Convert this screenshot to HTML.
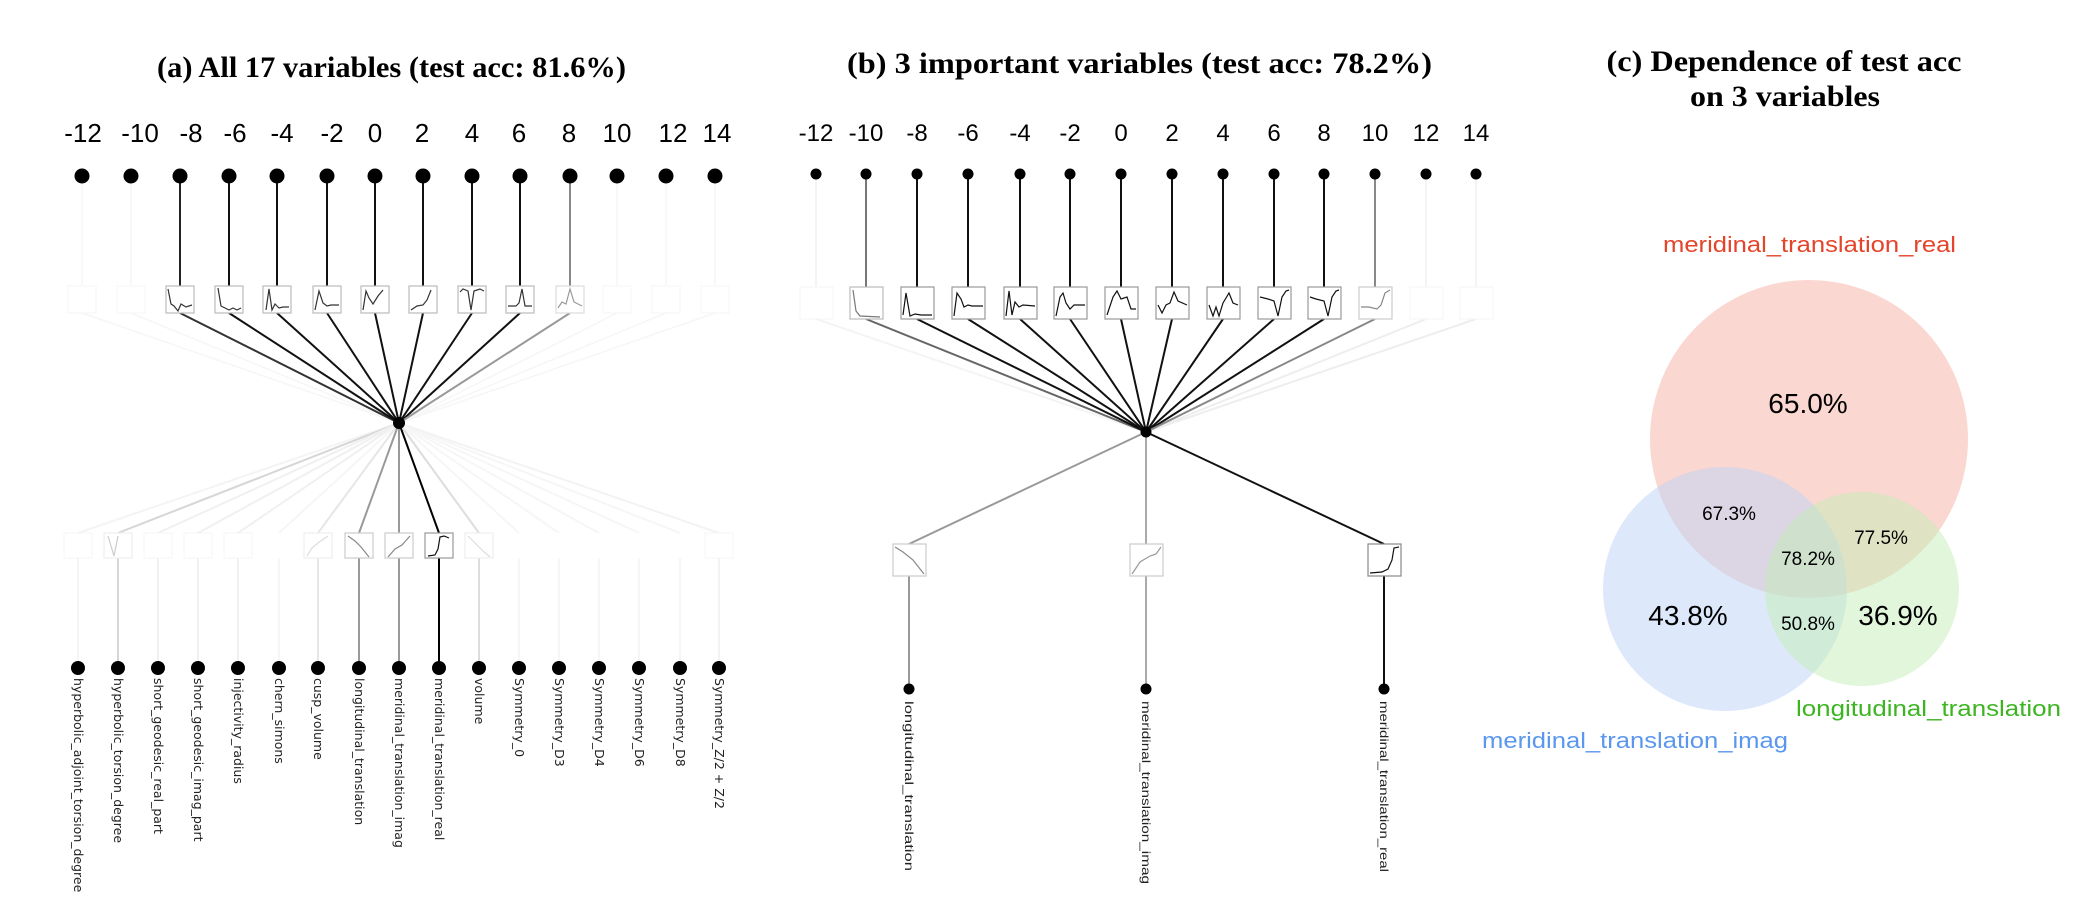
<!DOCTYPE html>
<html><head><meta charset="utf-8"><style>
html,body{margin:0;padding:0;background:#fff;}
svg{display:block;}
.t{font-family:"Liberation Serif",serif;font-weight:bold;font-size:30px;fill:#000;}
.k{font-family:"Liberation Sans",sans-serif;font-size:26px;fill:#000;text-anchor:middle;}
.v{font-family:"DejaVu Sans",sans-serif;font-size:12.5px;fill:#222;}
.v2{font-family:"Liberation Sans",sans-serif;font-size:12px;fill:#222;}
.bx{fill:#fff;stroke:#bbb;stroke-width:1.2;}
.fb{fill:#fff;stroke:#f5f5f5;stroke-width:1;}
.c{fill:none;stroke:#333;stroke-width:1.2;}
.vn{font-family:"Liberation Sans",sans-serif;fill:#000;text-anchor:middle;}
</style></head><body>
<svg width="2088" height="916" viewBox="0 0 2088 916" xmlns="http://www.w3.org/2000/svg">
<!-- ============ Panel (a) ============ -->
<text class="t" x="157" y="77" textLength="469" lengthAdjust="spacingAndGlyphs">(a) All 17 variables (test acc: 81.6%)</text>
<g>
<text class="k" x="83" y="142">-12</text><text class="k" x="140" y="142">-10</text><text class="k" x="191" y="142">-8</text><text class="k" x="235" y="142">-6</text><text class="k" x="282" y="142">-4</text><text class="k" x="332" y="142">-2</text><text class="k" x="375" y="142">0</text><text class="k" x="422" y="142">2</text><text class="k" x="472" y="142">4</text><text class="k" x="519" y="142">6</text><text class="k" x="569" y="142">8</text><text class="k" x="617" y="142">10</text><text class="k" x="673" y="142">12</text><text class="k" x="717" y="142">14</text>
</g>
<g stroke="#f6f6f6" stroke-width="1.5">
<line x1="82" y1="176" x2="82" y2="300"/><line x1="131" y1="176" x2="131" y2="300"/><line x1="617" y1="176" x2="617" y2="300"/><line x1="666" y1="176" x2="666" y2="300"/><line x1="715" y1="176" x2="715" y2="300"/>
<line x1="82" y1="313" x2="399" y2="423"/><line x1="131" y1="313" x2="399" y2="423"/><line x1="617" y1="313" x2="399" y2="423"/><line x1="666" y1="313" x2="399" y2="423"/><line x1="715" y1="313" x2="399" y2="423"/>
</g>
<g stroke-width="2">
<line x1="180" y1="176" x2="180" y2="286" stroke="#222"/><line x1="229" y1="176" x2="229" y2="286" stroke="#111"/><line x1="277" y1="176" x2="277" y2="286" stroke="#111"/><line x1="327" y1="176" x2="327" y2="286" stroke="#111"/><line x1="375" y1="176" x2="375" y2="286" stroke="#111"/><line x1="423" y1="176" x2="423" y2="286" stroke="#111"/><line x1="472" y1="176" x2="472" y2="286" stroke="#111"/><line x1="520" y1="176" x2="520" y2="286" stroke="#111"/><line x1="570" y1="176" x2="570" y2="286" stroke="#888"/>
<line x1="180" y1="313" x2="399" y2="423" stroke="#333"/><line x1="229" y1="313" x2="399" y2="423" stroke="#111"/><line x1="277" y1="313" x2="399" y2="423" stroke="#111"/><line x1="327" y1="313" x2="399" y2="423" stroke="#111"/><line x1="375" y1="313" x2="399" y2="423" stroke="#111"/><line x1="423" y1="313" x2="399" y2="423" stroke="#111"/><line x1="472" y1="313" x2="399" y2="423" stroke="#111"/><line x1="520" y1="313" x2="399" y2="423" stroke="#111"/><line x1="570" y1="313" x2="399" y2="423" stroke="#999"/>
</g>
<g fill="#000">
<circle cx="82" cy="176" r="7.5"/><circle cx="131" cy="176" r="7.5"/><circle cx="180" cy="176" r="7.5"/><circle cx="229" cy="176" r="7.5"/><circle cx="277" cy="176" r="7.5"/><circle cx="327" cy="176" r="7.5"/><circle cx="375" cy="176" r="7.5"/><circle cx="423" cy="176" r="7.5"/><circle cx="472" cy="176" r="7.5"/><circle cx="520" cy="176" r="7.5"/><circle cx="570" cy="176" r="7.5"/><circle cx="617" cy="176" r="7.5"/><circle cx="666" cy="176" r="7.5"/><circle cx="715" cy="176" r="7.5"/>
</g>
<g>
<g transform="translate(166,286)"><rect class="bx" width="28" height="27"/><path class="c" d="M2,3 L5,18 L8,20 L12,25 L15,18 L20,21 L26,19"/></g>
<g transform="translate(215,286)"><rect class="bx" width="28" height="27"/><path class="c" d="M3,2 L6,20 L10,22 L14,24 L18,22 L22,24 L26,22"/></g>
<g transform="translate(263,286)"><rect class="bx" width="28" height="27"/><path class="c" d="M3,24 L6,3 L9,24 L12,18 L16,22 L20,21 L26,21"/></g>
<g transform="translate(313,286)"><rect class="bx" width="28" height="27"/><path class="c" d="M2,24 L6,5 L10,17 L14,20 L18,19 L26,19"/></g>
<g transform="translate(361,286)"><rect class="bx" width="28" height="27"/><path class="c" d="M2,24 L5,5 L8,12 L12,18 L17,10 L22,4"/></g>
<g transform="translate(409,286)"><rect class="bx" width="28" height="27"/><path class="c" d="M2,24 L8,20 L14,19 L18,14 L22,4"/></g>
<g transform="translate(458,286)"><rect class="bx" width="28" height="27"/><path class="c" d="M2,6 L5,3 L10,5 L13,24 L16,5 L22,3 L26,5"/></g>
<g transform="translate(506,286)"><rect class="bx" width="28" height="27"/><path class="c" d="M2,20 L10,20 L13,17 L16,3 L19,20 L26,20"/></g>
<g transform="translate(556,286)"><rect class="bx" width="28" height="27" style="stroke:#ddd"/><path class="c" style="stroke:#999" d="M2,22 L6,16 L10,18 L14,3 L18,16 L26,20"/></g>
<rect class="fb" x="68" y="286" width="28" height="27"/><rect class="fb" x="117" y="286" width="28" height="27"/><rect class="fb" x="603" y="286" width="28" height="27"/><rect class="fb" x="652" y="286" width="28" height="27"/><rect class="fb" x="701" y="286" width="28" height="27"/>
</g>
<g stroke-width="2">
<line x1="399" y1="423" x2="78" y2="533" stroke="#f4f4f4"/><line x1="399" y1="423" x2="118" y2="533" stroke="#d6d6d6"/><line x1="399" y1="423" x2="158" y2="533" stroke="#f0f0f0"/><line x1="399" y1="423" x2="198" y2="533" stroke="#f0f0f0"/><line x1="399" y1="423" x2="238" y2="533" stroke="#f0f0f0"/><line x1="399" y1="423" x2="279" y2="533" stroke="#f6f6f6"/><line x1="399" y1="423" x2="318" y2="533" stroke="#e6e6e6"/><line x1="399" y1="423" x2="359" y2="533" stroke="#999"/><line x1="399" y1="423" x2="399" y2="533" stroke="#999"/><line x1="399" y1="423" x2="439" y2="533" stroke="#000"/><line x1="399" y1="423" x2="479" y2="533" stroke="#ddd"/><line x1="399" y1="423" x2="519" y2="533" stroke="#f6f6f6"/><line x1="399" y1="423" x2="559" y2="533" stroke="#f6f6f6"/><line x1="399" y1="423" x2="599" y2="533" stroke="#f6f6f6"/><line x1="399" y1="423" x2="639" y2="533" stroke="#f6f6f6"/><line x1="399" y1="423" x2="680" y2="533" stroke="#f6f6f6"/><line x1="399" y1="423" x2="719" y2="533" stroke="#f3f3f3"/>
<line x1="78" y1="558" x2="78" y2="668" stroke="#f4f4f4"/><line x1="118" y1="558" x2="118" y2="668" stroke="#d6d6d6"/><line x1="158" y1="558" x2="158" y2="668" stroke="#f0f0f0"/><line x1="198" y1="558" x2="198" y2="668" stroke="#f0f0f0"/><line x1="238" y1="558" x2="238" y2="668" stroke="#f0f0f0"/><line x1="279" y1="558" x2="279" y2="668" stroke="#f6f6f6"/><line x1="318" y1="558" x2="318" y2="668" stroke="#e6e6e6"/><line x1="359" y1="558" x2="359" y2="668" stroke="#999"/><line x1="399" y1="558" x2="399" y2="668" stroke="#999"/><line x1="439" y1="558" x2="439" y2="668" stroke="#000"/><line x1="479" y1="558" x2="479" y2="668" stroke="#ddd"/><line x1="519" y1="558" x2="519" y2="668" stroke="#f6f6f6"/><line x1="559" y1="558" x2="559" y2="668" stroke="#f6f6f6"/><line x1="599" y1="558" x2="599" y2="668" stroke="#f6f6f6"/><line x1="639" y1="558" x2="639" y2="668" stroke="#f6f6f6"/><line x1="680" y1="558" x2="680" y2="668" stroke="#f6f6f6"/><line x1="719" y1="558" x2="719" y2="668" stroke="#f3f3f3"/>
</g>
<g>
<rect class="fb" x="64" y="533" width="28" height="25"/>
<g transform="translate(104,533)"><rect class="bx" width="28" height="25" style="stroke:#eee"/><path class="c" style="stroke:#ccc" d="M4,3 L10,23 L14,3"/></g>
<rect class="fb" x="144" y="533" width="28" height="25"/><rect class="fb" x="184" y="533" width="28" height="25"/><rect class="fb" x="224" y="533" width="28" height="25"/>
<g transform="translate(304,533)"><rect class="bx" width="28" height="25" style="stroke:#eee"/><path class="c" style="stroke:#ddd" d="M3,23 L8,15 L14,10 L24,3"/></g>
<g transform="translate(345,533)"><rect class="bx" width="28" height="25" style="stroke:#ccc"/><path class="c" style="stroke:#888" d="M3,3 L10,8 L16,14 L24,24"/></g>
<g transform="translate(385,533)"><rect class="bx" width="28" height="25" style="stroke:#ccc"/><path class="c" style="stroke:#888" d="M3,24 L10,16 L17,12 L25,3"/></g>
<g transform="translate(425,533)"><rect class="bx" width="28" height="25" style="stroke:#999"/><path class="c" style="stroke:#111" d="M3,23 L10,22 L13,16 L15,4 L19,3 L24,5"/></g>
<g transform="translate(465,533)"><rect class="bx" width="28" height="25" style="stroke:#eee"/><path class="c" style="stroke:#ddd" d="M3,3 L10,10 L18,18 L25,24"/></g>
<rect class="fb" x="705" y="533" width="28" height="25"/>
</g>
<g fill="#000">
<circle cx="78" cy="668" r="7"/><circle cx="118" cy="668" r="7"/><circle cx="158" cy="668" r="7"/><circle cx="198" cy="668" r="7"/><circle cx="238" cy="668" r="7"/><circle cx="279" cy="668" r="7"/><circle cx="318" cy="668" r="7"/><circle cx="359" cy="668" r="7"/><circle cx="399" cy="668" r="7"/><circle cx="439" cy="668" r="7"/><circle cx="479" cy="668" r="7"/><circle cx="519" cy="668" r="7"/><circle cx="559" cy="668" r="7"/><circle cx="599" cy="668" r="7"/><circle cx="639" cy="668" r="7"/><circle cx="680" cy="668" r="7"/><circle cx="719" cy="668" r="7"/>
<circle cx="399" cy="423" r="6"/>
</g>
<g class="v">
<text transform="translate(74,678) rotate(90)">hyperbolic_adjoint_torsion_degree</text>
<text transform="translate(114,678) rotate(90)">hyperbolic_torsion_degree</text>
<text transform="translate(154,678) rotate(90)">short_geodesic_real_part</text>
<text transform="translate(194,678) rotate(90)">short_geodesic_imag_part</text>
<text transform="translate(234,678) rotate(90)">injectivity_radius</text>
<text transform="translate(275,678) rotate(90)">chern_simons</text>
<text transform="translate(314,678) rotate(90)">cusp_volume</text>
<text transform="translate(355,678) rotate(90)">longitudinal_translation</text>
<text transform="translate(395,678) rotate(90)">meridinal_translation_imag</text>
<text transform="translate(435,678) rotate(90)">meridinal_translation_real</text>
<text transform="translate(475,678) rotate(90)">volume</text>
<text transform="translate(515,678) rotate(90)">Symmetry_0</text>
<text transform="translate(555,678) rotate(90)">Symmetry_D3</text>
<text transform="translate(595,678) rotate(90)">Symmetry_D4</text>
<text transform="translate(635,678) rotate(90)">Symmetry_D6</text>
<text transform="translate(676,678) rotate(90)">Symmetry_D8</text>
<text transform="translate(715,678) rotate(90)">Symmetry_Z/2 + Z/2</text>
</g>

<!-- ============ Panel (b) ============ -->
<text class="t" x="847" y="73" textLength="585" lengthAdjust="spacingAndGlyphs">(b) 3 important variables (test acc: 78.2%)</text>
<g class="k" style="font-size:24px">
<text x="816" y="141">-12</text><text x="866" y="141">-10</text><text x="917" y="141">-8</text><text x="968" y="141">-6</text><text x="1020" y="141">-4</text><text x="1070" y="141">-2</text><text x="1121" y="141">0</text><text x="1172" y="141">2</text><text x="1223" y="141">4</text><text x="1274" y="141">6</text><text x="1324" y="141">8</text><text x="1375" y="141">10</text><text x="1426" y="141">12</text><text x="1476" y="141">14</text>
</g>
<g stroke-width="2">
<line x1="816" y1="174" x2="816" y2="287" stroke="#f4f4f4"/><line x1="1426" y1="174" x2="1426" y2="287" stroke="#f4f4f4"/><line x1="1476" y1="174" x2="1476" y2="287" stroke="#f4f4f4"/>
<line x1="816" y1="319" x2="1146" y2="432" stroke="#f4f4f4"/><line x1="1426" y1="319" x2="1146" y2="432" stroke="#eee"/><line x1="1476" y1="319" x2="1146" y2="432" stroke="#eee"/>
<line x1="866" y1="174" x2="866" y2="287" stroke="#777"/><line x1="917" y1="174" x2="917" y2="287" stroke="#111"/><line x1="968" y1="174" x2="968" y2="287" stroke="#111"/><line x1="1020" y1="174" x2="1020" y2="287" stroke="#111"/><line x1="1070" y1="174" x2="1070" y2="287" stroke="#111"/><line x1="1121" y1="174" x2="1121" y2="287" stroke="#111"/><line x1="1172" y1="174" x2="1172" y2="287" stroke="#111"/><line x1="1223" y1="174" x2="1223" y2="287" stroke="#111"/><line x1="1274" y1="174" x2="1274" y2="287" stroke="#111"/><line x1="1324" y1="174" x2="1324" y2="287" stroke="#111"/><line x1="1375" y1="174" x2="1375" y2="287" stroke="#888"/>
<line x1="866" y1="319" x2="1146" y2="432" stroke="#666"/><line x1="917" y1="319" x2="1146" y2="432" stroke="#111"/><line x1="968" y1="319" x2="1146" y2="432" stroke="#111"/><line x1="1020" y1="319" x2="1146" y2="432" stroke="#111"/><line x1="1070" y1="319" x2="1146" y2="432" stroke="#111"/><line x1="1121" y1="319" x2="1146" y2="432" stroke="#111"/><line x1="1172" y1="319" x2="1146" y2="432" stroke="#111"/><line x1="1223" y1="319" x2="1146" y2="432" stroke="#111"/><line x1="1274" y1="319" x2="1146" y2="432" stroke="#111"/><line x1="1324" y1="319" x2="1146" y2="432" stroke="#111"/><line x1="1375" y1="319" x2="1146" y2="432" stroke="#888"/>
<line x1="1146" y1="432" x2="909" y2="544" stroke="#999"/><line x1="1146" y1="432" x2="1146" y2="544" stroke="#aaa"/><line x1="1146" y1="432" x2="1384" y2="544" stroke="#111"/>
<line x1="909" y1="576" x2="909" y2="689" stroke="#999"/><line x1="1146" y1="576" x2="1146" y2="689" stroke="#aaa"/><line x1="1384" y1="576" x2="1384" y2="689" stroke="#111"/>
</g>
<g>
<rect class="fb" x="800" y="287" width="33" height="32"/><rect class="fb" x="1410" y="287" width="33" height="32"/><rect class="fb" x="1460" y="287" width="33" height="32"/>
<g transform="translate(850,287)"><rect class="bx" width="33" height="32"/><path class="c" style="stroke:#777" d="M3,3 L6,24 L10,29 L30,30"/></g>
<g transform="translate(901,287)"><rect class="bx" width="33" height="32" style="stroke:#999"/><path class="c" style="stroke:#111" d="M2,28 L5,6 L9,29 L14,27 L20,28 L31,28"/></g>
<g transform="translate(952,287)"><rect class="bx" width="33" height="32" style="stroke:#999"/><path class="c" style="stroke:#111" d="M2,29 L5,6 L9,12 L12,20 L16,18 L20,19 L31,19"/></g>
<g transform="translate(1004,287)"><rect class="bx" width="33" height="32" style="stroke:#999"/><path class="c" style="stroke:#111" d="M2,29 L5,4 L8,28 L11,15 L15,20 L19,18 L31,19"/></g>
<g transform="translate(1054,287)"><rect class="bx" width="33" height="32" style="stroke:#999"/><path class="c" style="stroke:#111" d="M2,29 L6,10 L9,6 L12,16 L16,22 L20,18 L31,18"/></g>
<g transform="translate(1105,287)"><rect class="bx" width="33" height="32" style="stroke:#999"/><path class="c" style="stroke:#111" d="M2,28 L8,10 L12,4 L16,12 L22,10 L26,22 L31,22"/></g>
<g transform="translate(1156,287)"><rect class="bx" width="33" height="32" style="stroke:#999"/><path class="c" style="stroke:#111" d="M2,18 L6,26 L10,18 L14,16 L18,5 L22,14 L31,18"/></g>
<g transform="translate(1207,287)"><rect class="bx" width="33" height="32" style="stroke:#999"/><path class="c" style="stroke:#111" d="M2,18 L6,29 L9,20 L12,29 L16,16 L22,6 L26,16 L31,18"/></g>
<g transform="translate(1258,287)"><rect class="bx" width="33" height="32" style="stroke:#999"/><path class="c" style="stroke:#111" d="M2,10 L10,12 L16,14 L20,29 L24,10 L28,4 L31,3"/></g>
<g transform="translate(1308,287)"><rect class="bx" width="33" height="32" style="stroke:#999"/><path class="c" style="stroke:#111" d="M2,10 L8,12 L16,14 L20,29 L24,10 L28,4 L31,3"/></g>
<g transform="translate(1359,287)"><rect class="bx" width="33" height="32" style="stroke:#ccc"/><path class="c" style="stroke:#888" d="M2,20 L10,20 L18,22 L22,18 L26,6 L31,3"/></g>
<g transform="translate(893,544)"><rect class="bx" width="33" height="32" style="stroke:#ccc"/><path class="c" style="stroke:#888" d="M2,3 L10,8 L20,16 L31,30"/></g>
<g transform="translate(1130,544)"><rect class="bx" width="33" height="32" style="stroke:#ccc"/><path class="c" style="stroke:#999" d="M2,30 L10,18 L20,12 L26,10 L31,3"/></g>
<g transform="translate(1368,544)"><rect class="bx" width="33" height="32" style="stroke:#888"/><path class="c" style="stroke:#111" d="M2,29 L14,28 L20,25 L24,16 L26,4 L31,3"/></g>
</g>
<g fill="#000">
<circle cx="816" cy="174" r="5.5"/><circle cx="866" cy="174" r="5.5"/><circle cx="917" cy="174" r="5.5"/><circle cx="968" cy="174" r="5.5"/><circle cx="1020" cy="174" r="5.5"/><circle cx="1070" cy="174" r="5.5"/><circle cx="1121" cy="174" r="5.5"/><circle cx="1172" cy="174" r="5.5"/><circle cx="1223" cy="174" r="5.5"/><circle cx="1274" cy="174" r="5.5"/><circle cx="1324" cy="174" r="5.5"/><circle cx="1375" cy="174" r="5.5"/><circle cx="1426" cy="174" r="5.5"/><circle cx="1476" cy="174" r="5.5"/>
<circle cx="1146" cy="432" r="5.5"/>
<circle cx="909" cy="689" r="5.5"/><circle cx="1146" cy="689" r="5.5"/><circle cx="1384" cy="689" r="5.5"/>
</g>
<g class="v2">
<text transform="translate(905,701) rotate(90)" textLength="170" lengthAdjust="spacingAndGlyphs">longitudinal_translation</text>
<text transform="translate(1142,701) rotate(90)" textLength="183" lengthAdjust="spacingAndGlyphs">meridinal_translation_imag</text>
<text transform="translate(1380,701) rotate(90)" textLength="171" lengthAdjust="spacingAndGlyphs">meridinal_translation_real</text>
</g>

<!-- ============ Panel (c) ============ -->
<text class="t" x="1784" y="71" text-anchor="middle" textLength="355" lengthAdjust="spacingAndGlyphs">(c) Dependence of test acc</text>
<text class="t" x="1785" y="106" text-anchor="middle" textLength="190" lengthAdjust="spacingAndGlyphs">on 3 variables</text>
<circle cx="1809" cy="439" r="159" fill="#f5b7aa" fill-opacity="0.55"/>
<circle cx="1725" cy="589" r="122" fill="#bcd3f7" fill-opacity="0.5"/>
<circle cx="1862" cy="589" r="97" fill="#c3eeb5" fill-opacity="0.5"/>
<g font-family="Liberation Sans, sans-serif" font-size="22">
<text x="1663" y="252" fill="#e5432a" textLength="293" lengthAdjust="spacingAndGlyphs">meridinal_translation_real</text>
<text x="1482" y="748" fill="#5b97ee" textLength="306" lengthAdjust="spacingAndGlyphs">meridinal_translation_imag</text>
<text x="1796" y="716" fill="#3cb521" textLength="265" lengthAdjust="spacingAndGlyphs">longitudinal_translation</text>
</g>
<g class="vn">
<text x="1808" y="413" font-size="28">65.0%</text>
<text x="1688" y="625" font-size="28">43.8%</text>
<text x="1898" y="625" font-size="28">36.9%</text>
<text x="1729" y="520" font-size="19">67.3%</text>
<text x="1881" y="544" font-size="19">77.5%</text>
<text x="1808" y="565" font-size="19">78.2%</text>
<text x="1808" y="630" font-size="19">50.8%</text>
</g>
</svg>
</body></html>
